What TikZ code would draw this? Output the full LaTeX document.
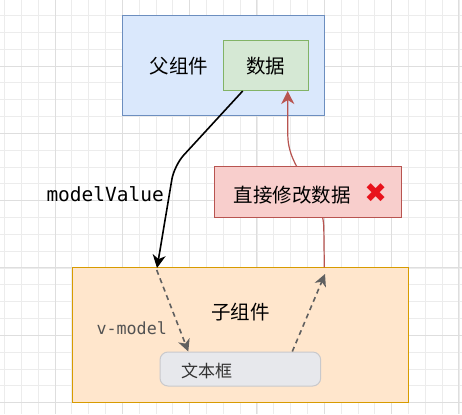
\documentclass[tikz,border=0pt]{standalone}
\usepackage{fontspec}
\newfontfamily\cjk{Noto Sans CJK SC}
\newfontfamily\monof{DejaVu Sans Mono}
\newfontfamily\symf{DejaVu Sans}
\usetikzlibrary{arrows.meta}
\definecolor{gridminor}{HTML}{ECECEC}
\definecolor{gridmajor}{HTML}{DEDEDE}
\definecolor{blueF}{HTML}{DAE8FC}
\definecolor{blueD}{HTML}{6C8EBF}
\definecolor{greenF}{HTML}{D5E8D4}
\definecolor{greenD}{HTML}{82B366}
\definecolor{redF}{HTML}{F8CECC}
\definecolor{redD}{HTML}{B85450}
\definecolor{orangeF}{HTML}{FFE6CC}
\definecolor{orangeD}{HTML}{D79B00}
\definecolor{boxF}{HTML}{E7E8EC}
\definecolor{boxD}{HTML}{C9C9CC}
\definecolor{dashG}{HTML}{606060}
\definecolor{crossR}{HTML}{E8121B}
\tikzset{
  box/.style={draw, line width=1pt, inner sep=0pt, anchor=center},
  cjktext/.style={font=\cjk\fontsize{19.5}{22}\selectfont, text=black, inner sep=0pt},
  tip/.style={-{Stealth[length=13pt,width=13pt,inset=4pt]}},
  dasharrow/.style={draw=dashG, line width=1.6pt, dash pattern=on 5pt off 4pt,
     -{Stealth[length=12pt,width=12pt,inset=3.5pt,fill=dashG]}},
}
\begin{document}
\begin{tikzpicture}[x=1pt,y=-1pt]
\useasboundingbox (0,0) rectangle (462,414);
\fill[white] (0,0) rectangle (462,414);
% grid
\foreach \k in {0,...,27}{
  \pgfmathsetmacro{\gx}{4.5+16.83*\k}
  \draw[gridminor, line width=0.8pt] (\gx,0) -- (\gx,414);
}
\foreach \k in {1,...,25}{
  \pgfmathsetmacro{\gy}{-1.3+16.83*\k}
  \draw[gridminor, line width=0.8pt] (0,\gy) -- (462,\gy);
}
\foreach \k in {0,...,6}{
  \pgfmathsetmacro{\gx}{55+67.32*\k}
  \draw[gridmajor, line width=1pt] (\gx,0) -- (\gx,414);
}
\foreach \k in {1,...,6}{
  \pgfmathsetmacro{\gy}{-1.3+67.32*\k}
  \draw[gridmajor, line width=1pt] (0,\gy) -- (462,\gy);
}

% parent component
\node[box, fill=blueF, draw=blueD, minimum width=201.3pt, minimum height=100.3pt] (parent) at (223.35,65.85) {};
\node[cjktext] (parentlbl) at (178.8,66) {父组件};
\node[box, fill=greenF, draw=greenD, minimum width=85pt, minimum height=50.3pt, cjktext, draw=greenD] (data) at (265.5,65.85) {数据};

% child component
\node[box, fill=orangeF, draw=orangeD, minimum width=336.7pt, minimum height=135.4pt] (child) at (240.35,335) {};
\node[cjktext] (childlbl) at (240.5,311.7) {子组件};
\node[box, fill=boxF, draw=boxD, rounded corners=8pt, minimum width=160.7pt, minimum height=34pt] (input) at (240.35,369) {};
\node[font=\cjk\fontsize{17}{20}\selectfont, text=black!80, inner sep=0pt] (inputlbl) at (206.7,370.5) {文本框};
\node[font=\monof\fontsize{16.7}{20}\selectfont, text=black!68, inner sep=0pt] (vmodel) at (131.7,327.8) {v-model};

% connectors
\coordinate (blackstart) at (242.7,91);
\coordinate (blackend) at (157,268);
\draw[black, line width=1.6pt, rounded corners=14pt, tip] (blackstart) -- (174.2,165.5) -- (blackend);
\node[font=\monof\fontsize{19.5}{22}\selectfont, text=black, inner sep=0pt] (mv) at (105.2,194.5) {modelValue};

\coordinate (redstart) at (324.3,267.3);
\coordinate (redend) at (287.7,91);
\draw[redD, line width=1.2pt, tip] (redstart) -- (323.8,228) .. controls (323,190) and (288,172) .. (287.8,135) -- (redend);

\node[box, fill=redF, draw=redD, minimum width=186.7pt, minimum height=51pt] (direct) at (307.65,192.2) {};
\node[cjktext] (directlbl) at (292,195) {直接修改数据};
\node[font=\symf\fontsize{27}{28}\selectfont, text=crossR, inner sep=0pt] (cross) at (375.8,193.5) {✖};

\coordinate (d1s) at (156.7,270);
\coordinate (d1e) at (188.3,351.5);
\draw[dasharrow] (d1s) -- (d1e);
\coordinate (d2s) at (292.3,351.5);
\coordinate (d2e) at (325,274);
\draw[dasharrow] (d2s) -- (d2e);
\end{tikzpicture}
\end{document}
